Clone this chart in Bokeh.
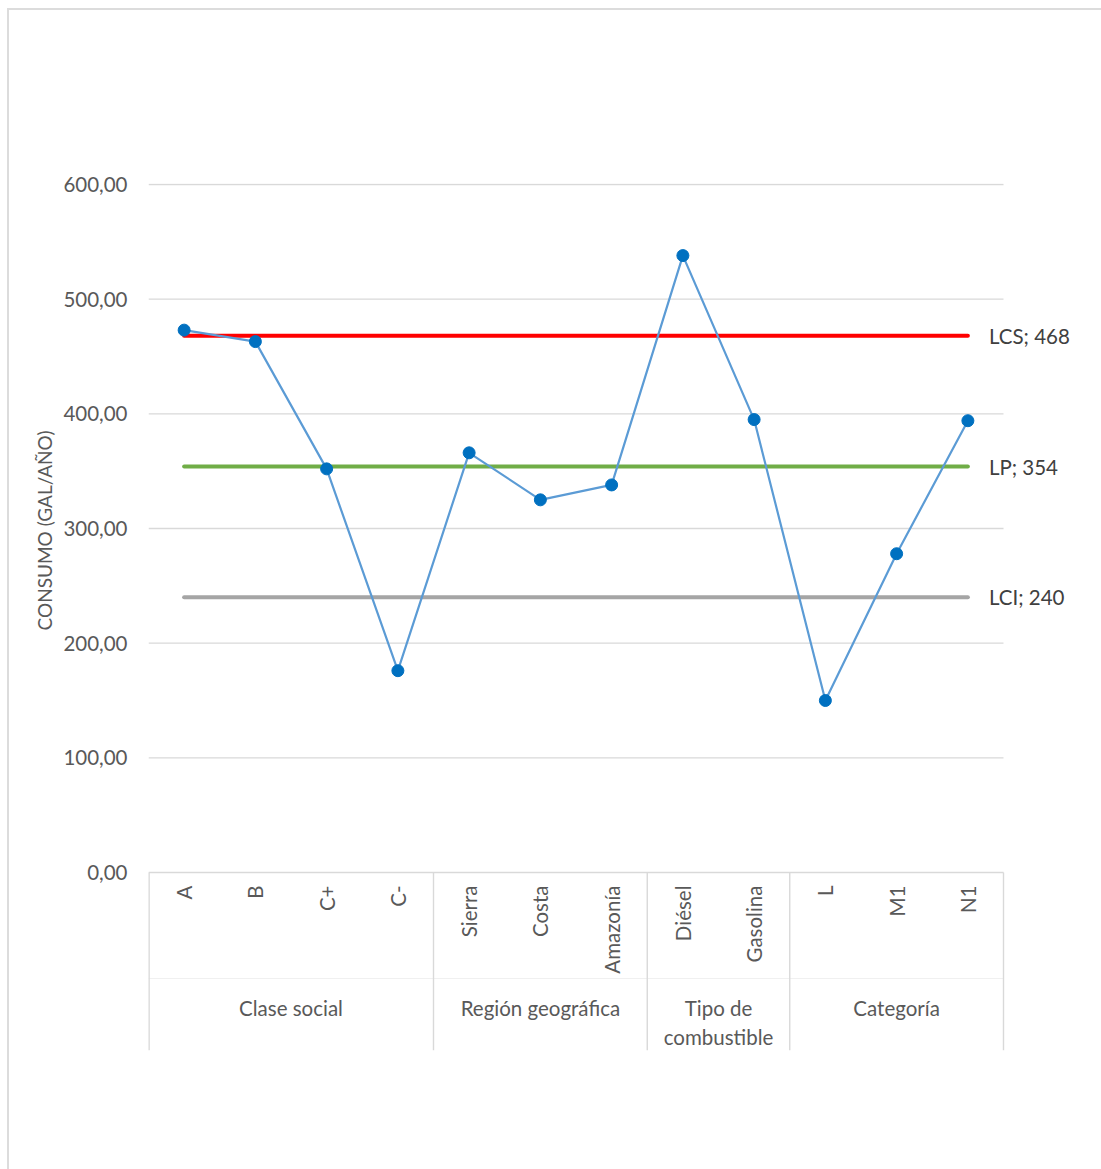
import numpy as np
from bokeh.plotting import figure
from bokeh.models import Range1d, FixedTicker, Label, ColumnDataSource, Title
from bokeh.layouts import column
from bokeh.embed import file_html
from bokeh.resources import INLINE
from bokeh.core.properties import value

# Consumption per category (gal/año), grouped by criterion
groups = ["Clase social", "Región geográfica", "Tipo de\ncombustible", "Categoría"]
group_members = [
    ["A", "B", "C+", "C-"],
    ["Sierra", "Costa", "Amazonía"],
    ["Diésel", "Gasolina"],
    ["L", "M1", "N1"],
]
consumo = [473, 463, 352, 176, 366, 325, 338, 538, 395, 150, 278, 394]

# Control limits
limit_names = ["LCS", "LP", "LCI"]
limit_values = [468, 354, 240]

y_ticks = [0, 100, 200, 300, 400, 500, 600]
y_tick_labels = ["0,00", "100,00", "200,00", "300,00", "400,00", "500,00", "600,00"]

limit_colors = ["#ff0000", "#70ad47", "#a5a5a5"]
FONT = "Lato"
FS = "20.5px"
TXT = "#595959"
GRID = "#d9d9d9"

categories = [c for g in group_members for c in g]
n = len(categories)
xs = np.arange(n) + 0.5

# Frame geometry (pixels): the value axis spans 0..600, the category
# axis hangs below zero inside the same frame.
W, H = 1092, 1159
OX, OY = 9, 10
left_px, right_px, axis_right_px = 148, 1090, 1003
top_px, zero_px, bottom_px = 183, 872, 1050
ppu = (872 - 184) / 600.0
y_top = (zero_px - top_px) / ppu
y_bot = -(bottom_px - zero_px) / ppu
x_end = n * (right_px - left_px) / (axis_right_px - left_px)


def below(px):
    """Data y for a pixel row under the zero line."""
    return -(px - zero_px) / ppu


p = figure(width=W, height=H, x_range=Range1d(0, x_end), y_range=Range1d(y_bot, y_top),
           output_backend="svg", toolbar_location=None, x_axis_location=None,
           min_border_left=left_px - OX, min_border_right=W - (right_px - OX),
           min_border_top=top_px - OY, min_border_bottom=H - (bottom_px - OY))
p.outline_line_color = None
p.grid.visible = False

ax = p.yaxis[0]
ax.ticker = FixedTicker(ticks=y_ticks)
ax.major_label_overrides = {t: l for t, l in zip(y_ticks, y_tick_labels)}
ax.axis_line_color = None
ax.major_tick_line_color = None
ax.minor_tick_line_color = None
ax.major_tick_out = 0
ax.major_tick_in = 0
ax.major_label_standoff = 21
ax.major_label_text_font = FONT
ax.major_label_text_font_size = FS
ax.major_label_text_color = TXT

# Value axis title, starting from the frame bottom and lifted up
p.add_layout(Title(text="CONSUMO (GAL/AÑO)", align="left", offset=bottom_px - 630,
                   text_font=FONT, text_font_size="19px", text_font_style="normal",
                   text_color=TXT, standoff=9), "left")

# Horizontal gridlines across the category span
p.segment(x0=0, y0=y_ticks, x1=n, y1=y_ticks, line_color=GRID, line_width=1.3)

# Control limit lines with their labels
for name, val, col in zip(limit_names, limit_values, limit_colors):
    p.line(x=[xs[0], xs[-1]], y=[val, val], line_color=col, line_width=4,
           line_cap="round")
    p.add_layout(Label(x=xs[-1], y=val, x_offset=21, text=f"{name}; {val}",
                       text_baseline="middle", text_align="left",
                       text_font=FONT, text_font_size=FS,
                       text_color="#404040"))

src = ColumnDataSource(dict(x=xs, y=consumo, cat=categories))
p.line("x", "y", source=src, line_color="#5b9bd5", line_width=2.2)
p.scatter("x", "y", source=src, size=12, fill_color="#0070c0", line_color="#0070c0")

# Two-level category axis
sizes = [len(g) for g in group_members]
bounds = np.concatenate([[0], np.cumsum(sizes)])
centers = (bounds[:-1] + bounds[1:]) / 2

p.segment(x0=[0], y0=[below(978)], x1=[n], y1=[below(978)], line_color="#f0f0f0",
          line_width=1)
p.segment(x0=bounds[1:], y0=0, x1=bounds[1:], y1=y_bot, line_color=GRID, line_width=1.4)
p.segment(x0=[0], y0=0, x1=[0], y1=y_bot, line_color=GRID, line_width=2.6)

p.text(x=xs, y=below(885), text=categories, angle=np.pi / 2, text_align="right",
       text_baseline="middle", text_font=value(FONT), text_font_size=FS,
       text_color=TXT)
p.text(x=centers, y=below(995), text=groups, text_align="center", text_baseline="top",
       text_font=value(FONT), text_font_size=FS, text_color=TXT,
       text_line_height=1.23)

root = column(p, margin=(8, 0, 0, 7),
              styles={"border-left": "2px solid #dcdcdc", "border-top": "2px solid #dcdcdc"})

open("out.html", "w").write(file_html(root, INLINE))
